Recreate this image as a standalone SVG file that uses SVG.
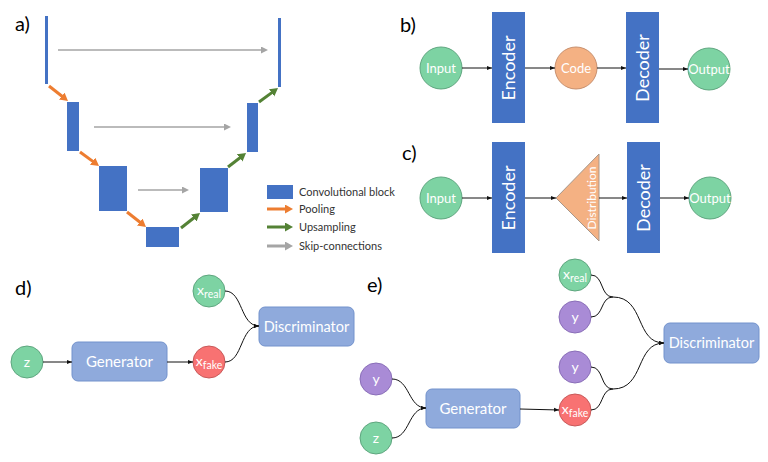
<svg xmlns="http://www.w3.org/2000/svg" width="768" height="462" viewBox="0 0 768 462">
<style>
.lbl{font-family:Lato,"Liberation Sans",sans-serif;font-size:20px;fill:#000}
.blk{fill:#4472C4}
.wt{font-family:Lato,"Liberation Sans",sans-serif;fill:#fff;text-anchor:middle}
.leg{font-family:Lato,"Liberation Sans",sans-serif;font-size:11px;fill:#333}
.grn{fill:#7DD3A3;stroke:#5FA67F;stroke-width:1}
.org{fill:#F4B183;stroke:#C8906E;stroke-width:1}
.red{fill:#F87272;stroke:#C85A5A;stroke-width:1}
.pur{fill:#A98BD6;stroke:#8A6FB8;stroke-width:1}
.gan{fill:#8FAADC;stroke:#7292CC;stroke-width:1}
.thin{fill:none;stroke:#111;stroke-width:1}
.po{stroke:#ED7D31;stroke-width:3;fill:none}
.up{stroke:#548235;stroke-width:3;fill:none}
.sk{stroke:#A5A5A5;stroke-width:1.5;fill:none}
</style>
<defs>
<marker id="hO" markerUnits="userSpaceOnUse" markerWidth="10" markerHeight="10" refX="2" refY="4.5" orient="auto"><path d="M0,0 L8,4.5 L0,9 z" fill="#ED7D31"/></marker>
<marker id="hG" markerUnits="userSpaceOnUse" markerWidth="10" markerHeight="10" refX="2" refY="4.5" orient="auto"><path d="M0,0 L8,4.5 L0,9 z" fill="#548235"/></marker>
<marker id="hS" markerUnits="userSpaceOnUse" markerWidth="10" markerHeight="10" refX="2" refY="3.5" orient="auto"><path d="M0,0 L7,3.5 L0,7 z" fill="#A5A5A5"/></marker>
<marker id="hSL" markerUnits="userSpaceOnUse" markerWidth="10" markerHeight="10" refX="2" refY="4.5" orient="auto"><path d="M0,0 L8,4.5 L0,9 z" fill="#A5A5A5"/></marker>
<marker id="hK" markerUnits="userSpaceOnUse" markerWidth="6" markerHeight="6" refX="5" refY="2.5" orient="auto"><path d="M0,0.5 L5,2.5 L0,4.5 z" fill="#111"/></marker>
</defs>
<rect width="768" height="462" fill="#fff"/>

<!-- panel labels -->
<text class="lbl" x="15" y="31">a)</text>
<text class="lbl" x="400" y="32">b)</text>
<text class="lbl" x="402" y="160">c)</text>
<text class="lbl" x="15" y="295">d)</text>
<text class="lbl" x="367" y="292">e)</text>

<!-- panel a: U-Net -->
<g id="unet-blocks">
<rect class="blk" x="45" y="16" width="3" height="68"/>
<rect class="blk" x="278" y="18" width="3" height="69"/>
<rect class="blk" x="67" y="102" width="12" height="49"/>
<rect class="blk" x="247" y="103" width="11" height="49"/>
<rect class="blk" x="99" y="166" width="28" height="45"/>
<rect class="blk" x="200" y="168" width="28" height="44"/>
<rect class="blk" x="146" y="227" width="33" height="20"/>
</g>
<g id="legend">
<rect class="blk" x="267" y="185" width="26" height="14"/>
<text class="leg" x="299" y="196">Convolutional block</text>
<line class="po" x1="267" y1="209" x2="287" y2="209" marker-end="url(#hO)"/>
<text class="leg" x="299" y="213">Pooling</text>
<line class="up" x1="267" y1="227" x2="287" y2="227" marker-end="url(#hG)"/>
<text class="leg" x="299" y="231">Upsampling</text>
<line x1="267" y1="246" x2="287" y2="246" stroke="#A5A5A5" stroke-width="3" marker-end="url(#hSL)"/>
<text class="leg" x="299" y="250">Skip-connections</text>
</g>

<!-- panel b -->
<g id="b-input"><circle class="grn" cx="441" cy="68" r="21"/><text class="wt" x="441" y="72.5" font-size="13">Input</text></g>
<g id="b-encoder"><rect class="blk" x="492" y="12" width="33" height="111"/><text class="wt" font-size="18" transform="translate(514.5,68) rotate(-90)">Encoder</text></g>
<g id="b-code"><circle class="org" cx="576" cy="68" r="21"/><text class="wt" x="576" y="72.5" font-size="13">Code</text></g>
<g id="b-decoder"><rect class="blk" x="626" y="12" width="33" height="111"/><text class="wt" font-size="18" transform="translate(648.5,68) rotate(-90)">Decoder</text></g>
<g id="b-output"><circle class="grn" cx="709" cy="69" r="21"/><text class="wt" x="709" y="73.5" font-size="13">Output</text></g>

<!-- panel c -->
<g id="c-input"><circle class="grn" cx="441" cy="198" r="21"/><text class="wt" x="441" y="202.5" font-size="13">Input</text></g>
<g id="c-encoder"><rect class="blk" x="492" y="142" width="33" height="111"/><text class="wt" font-size="18" transform="translate(514.5,198) rotate(-90)">Encoder</text></g>
<g id="c-distribution"><path d="M556,198 L599,154 L599,241 Z" fill="#F4B183" stroke="#A8978A" stroke-width="1"/><text class="wt" font-size="12" transform="translate(596,198) rotate(-90)">Distribution</text></g>
<g id="c-decoder"><rect class="blk" x="627" y="142" width="33" height="111"/><text class="wt" font-size="18" transform="translate(649.5,198) rotate(-90)">Decoder</text></g>
<g id="c-output"><circle class="grn" cx="710" cy="198" r="21"/><text class="wt" x="710" y="202.5" font-size="13">Output</text></g>

<!-- panel d -->
<g id="d-z"><circle class="grn" cx="27" cy="362" r="16"/><text class="wt" x="27" y="367" font-size="14">z</text></g>
<g id="d-generator"><rect class="gan" x="72" y="342" width="95" height="39" rx="6"/><text class="wt" x="119.5" y="367" font-size="15">Generator</text></g>
<g id="d-xreal"><circle class="grn" cx="209" cy="291" r="16"/><text class="wt" x="209" y="295" font-size="14">x<tspan font-size="10.5" dy="3">real</tspan></text></g>
<g id="d-xfake"><circle class="red" cx="209" cy="362" r="16"/><text class="wt" x="209" y="366" font-size="14">x<tspan font-size="10.5" dy="3">fake</tspan></text></g>
<g id="d-discriminator"><rect class="gan" x="259" y="307" width="95" height="39" rx="6"/><text class="wt" x="306.5" y="331.5" font-size="14.5">Discriminator</text></g>

<!-- panel e -->
<g id="e-y1"><circle class="pur" cx="376" cy="379" r="16"/><text class="wt" x="376" y="384" font-size="14">y</text></g>
<g id="e-z"><circle class="grn" cx="376" cy="438" r="16"/><text class="wt" x="376" y="443" font-size="14">z</text></g>
<g id="e-generator"><rect class="gan" x="426" y="389" width="94" height="39" rx="6"/><text class="wt" x="473" y="414" font-size="15">Generator</text></g>
<g id="e-xreal"><circle class="grn" cx="575" cy="275" r="16"/><text class="wt" x="575" y="279" font-size="14">x<tspan font-size="10.5" dy="3">real</tspan></text></g>
<g id="e-y2"><circle class="pur" cx="575" cy="317" r="16"/><text class="wt" x="575" y="322" font-size="14">y</text></g>
<g id="e-y3"><circle class="pur" cx="575" cy="367" r="16"/><text class="wt" x="575" y="372" font-size="14">y</text></g>
<g id="e-xfake"><circle class="red" cx="575" cy="410" r="16"/><text class="wt" x="575" y="414" font-size="14">x<tspan font-size="10.5" dy="3">fake</tspan></text></g>
<g id="e-discriminator"><rect class="gan" x="664" y="323" width="95" height="40" rx="6"/><text class="wt" x="711.5" y="348" font-size="14.5">Discriminator</text></g>

<!-- connectors -->
<g id="connectors">
<line class="sk" x1="58" y1="50" x2="263" y2="50" marker-end="url(#hS)"/>
<line class="sk" x1="94" y1="127" x2="226" y2="127" marker-end="url(#hS)"/>
<line class="sk" x1="138" y1="190" x2="184" y2="190" marker-end="url(#hS)"/>
<line class="po" x1="49" y1="86" x2="63.3" y2="97.3" marker-end="url(#hO)"/>
<line class="po" x1="80" y1="152" x2="94.2" y2="162.4" marker-end="url(#hO)"/>
<line class="po" x1="127" y1="212" x2="141.3" y2="223.3" marker-end="url(#hO)"/>
<line class="up" x1="181" y1="228" x2="195.3" y2="216.7" marker-end="url(#hG)"/>
<line class="up" x1="228" y1="167" x2="241.3" y2="156.7" marker-end="url(#hG)"/>
<line class="up" x1="259" y1="102" x2="273.2" y2="91.6" marker-end="url(#hG)"/>

<line class="thin" x1="462" y1="68" x2="492" y2="68" marker-end="url(#hK)"/>
<line class="thin" x1="525" y1="68" x2="555" y2="68" marker-end="url(#hK)"/>
<line class="thin" x1="597" y1="68" x2="626" y2="68" marker-end="url(#hK)"/>
<line class="thin" x1="659" y1="69" x2="688" y2="69" marker-end="url(#hK)"/>

<line class="thin" x1="462" y1="198" x2="492" y2="198" marker-end="url(#hK)"/>
<line class="thin" x1="525" y1="198" x2="556" y2="198" marker-end="url(#hK)"/>
<line class="thin" x1="599" y1="198" x2="627" y2="198" marker-end="url(#hK)"/>
<line class="thin" x1="660" y1="198" x2="689" y2="198" marker-end="url(#hK)"/>

<line class="thin" x1="43" y1="362" x2="72" y2="362" marker-end="url(#hK)"/>
<line class="thin" x1="167" y1="362" x2="193" y2="362" marker-end="url(#hK)"/>
<path class="thin" d="M225,291 C243,291 240,326 259,326" marker-end="url(#hK)"/>
<path class="thin" d="M225,362 C243,362 240,326 259,326" marker-end="url(#hK)"/>

<path class="thin" d="M392,379 C410,379 408,408 426,408" marker-end="url(#hK)"/>
<path class="thin" d="M392,438 C410,438 408,408 426,408" marker-end="url(#hK)"/>
<line class="thin" x1="520" y1="409" x2="559" y2="410" marker-end="url(#hK)"/>
<path class="thin" d="M591,275 C604,275 600,297 613,297"/>
<path class="thin" d="M591,317 C604,317 600,297 613,297"/>
<path class="thin" d="M613,297 C645,297 635,343 664,343" marker-end="url(#hK)"/>
<path class="thin" d="M591,367 C604,367 600,389 613,389"/>
<path class="thin" d="M591,410 C604,410 600,389 613,389"/>
<path class="thin" d="M613,389 C645,389 635,343 664,343" marker-end="url(#hK)"/>
</g>
</svg>
